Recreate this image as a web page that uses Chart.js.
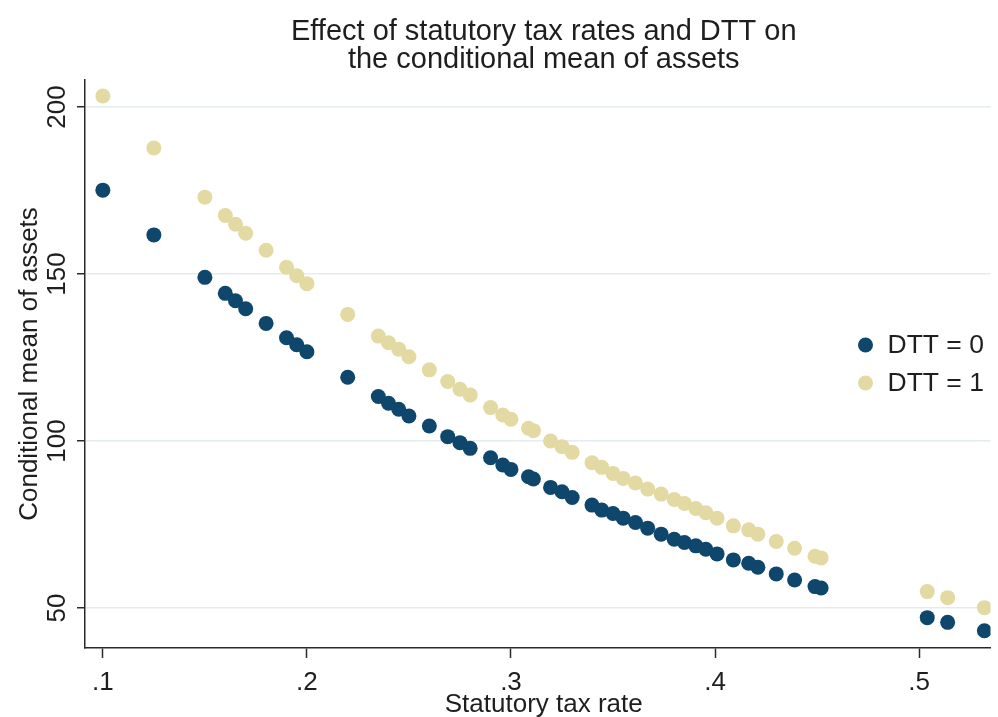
<!DOCTYPE html>
<html>
<head>
<meta charset="utf-8">
<script src="https://cdn.jsdelivr.net/npm/chart.js@4.4.1/dist/chart.umd.min.js"></script>
<style>
  html, body { margin: 0; padding: 0; background: #ffffff; }
  #wrap { width: 998px; height: 717px; }
</style>
</head>
<body>
<div id="wrap"><canvas id="c" width="998" height="717"></canvas></div>
<script>
// Statutory tax rates and the conditional mean of assets, by DTT status
const taxRate = [
  0.100, 0.125, 0.150, 0.160, 0.165, 0.170, 0.180, 0.190, 0.195, 0.200,
  0.220, 0.235, 0.240, 0.245, 0.250, 0.260, 0.269, 0.275, 0.280, 0.290,
  0.296, 0.300, 0.3086, 0.311, 0.3194, 0.325, 0.330, 0.3397, 0.3445, 0.350,
  0.355, 0.361, 0.367, 0.3736, 0.380, 0.385, 0.3906, 0.3955, 0.401, 0.409,
  0.4165, 0.421, 0.430, 0.439, 0.449, 0.452, 0.504, 0.514, 0.532
];
const assetsDTT0 = [
  175.1, 161.7, 149.0, 144.2, 142.0, 139.6, 135.2, 130.9, 128.8, 126.7,
  119.1, 113.3, 111.3, 109.5, 107.5, 104.5, 101.3, 99.5, 97.8, 95.0,
  92.8, 91.5, 89.3, 88.6, 86.1, 84.8, 83.1, 80.8, 79.3, 78.3,
  76.9, 75.6, 73.9, 72.1, 70.6, 69.6, 68.6, 67.6, 66.2, 64.4,
  63.4, 62.2, 60.2, 58.4, 56.4, 56.0, 47.1, 45.7, 43.2
];
const assetsDTT1 = [
  203.3, 187.7, 173.0, 167.5, 164.9, 162.2, 157.1, 152.0, 149.5, 147.1,
  137.9, 131.4, 129.4, 127.5, 125.2, 121.3, 117.8, 115.5, 113.8, 110.0,
  107.8, 106.5, 103.8, 103.1, 100.0, 98.3, 96.6, 93.5, 92.1, 90.3,
  88.8, 87.4, 85.6, 84.1, 82.5, 81.3, 79.8, 78.5, 76.9, 74.6,
  73.4, 72.1, 69.9, 67.9, 65.5, 65.0, 54.9, 53.1, 50.1
];
const xTicks = [0.1, 0.2, 0.3, 0.4, 0.5];
const xTickLabels = ['.1', '.2', '.3', '.4', '.5'];
const yTicks = [50, 100, 150, 200];
const yTickLabels = ['50', '100', '150', '200'];
const seriesNames = ['DTT = 0', 'DTT = 1'];
const chartTitle = ['Effect of statutory tax rates and DTT on', 'the conditional mean of assets'];
const xTitle = 'Statutory tax rate';
const yTitle = 'Conditional mean of assets';

const NAVY = '#0e466c';
const SAND = '#e3d9a3';
const INK = '#1e1e1e';
const AXIS = '#2a2a2a';
const FONT = '"Liberation Sans", Arial, Helvetica, sans-serif';
const DOT = 7.5;

const toPoints = ys => taxRate.map((x, i) => ({ x: x, y: ys[i] }));

// Titles, rotated y labels, tick labels and the inset legend
const textLayer = {
  id: 'textLayer',
  afterDraw(chart) {
    const ctx = chart.ctx;
    const area = chart.chartArea;
    const xs = chart.scales.x;
    const ys = chart.scales.y;
    const cx = (area.left + area.right) / 2 + 6;
    ctx.save();
    ctx.fillStyle = INK;

    // main title
    ctx.font = '29px ' + FONT;
    ctx.textAlign = 'center';
    ctx.textBaseline = 'alphabetic';
    ctx.fillText(chartTitle[0], cx, 40);
    ctx.fillText(chartTitle[1], cx, 68);

    // x tick labels
    ctx.font = '26px ' + FONT;
    xTicks.forEach((v, i) => {
      ctx.fillText(xTickLabels[i], xs.getPixelForValue(v), area.bottom + 42);
    });

    // x axis title
    ctx.fillText(xTitle, cx, 712);

    // y tick labels, reading upward
    yTicks.forEach((v, i) => {
      ctx.save();
      ctx.translate(area.left - 20, ys.getPixelForValue(v));
      ctx.rotate(-Math.PI / 2);
      ctx.fillText(yTickLabels[i], 0, 0);
      ctx.restore();
    });

    // y axis title
    ctx.save();
    ctx.translate(37, (area.top + area.bottom) / 2);
    ctx.rotate(-Math.PI / 2);
    ctx.fillText(yTitle, 0, 0);
    ctx.restore();

    // legend inside the plot region
    const colors = [NAVY, SAND];
    const lx = area.right - 125;
    const ly = [345, 383];
    ctx.font = '26.5px ' + FONT;
    ctx.textAlign = 'left';
    ctx.textBaseline = 'middle';
    seriesNames.forEach((name, i) => {
      ctx.beginPath();
      ctx.fillStyle = colors[i];
      ctx.arc(lx, ly[i], DOT, 0, Math.PI * 2);
      ctx.fill();
      ctx.fillStyle = INK;
      ctx.fillText(name, lx + 22, ly[i] + 1);
    });
    ctx.restore();
  }
};

new Chart(document.getElementById('c'), {
  type: 'scatter',
  data: {
    datasets: [
      { label: seriesNames[0], data: toPoints(assetsDTT0), backgroundColor: NAVY,
        pointRadius: DOT, pointHoverRadius: DOT, pointBorderWidth: 0, borderWidth: 0 },
      { label: seriesNames[1], data: toPoints(assetsDTT1), backgroundColor: SAND,
        pointRadius: DOT, pointHoverRadius: DOT, pointBorderWidth: 0, borderWidth: 0 }
    ]
  },
  options: {
    responsive: false,
    animation: false,
    devicePixelRatio: 1,
    layout: { padding: { top: 80, left: 0, right: 0, bottom: 0 } },
    plugins: {
      legend: { display: false },
      title: { display: false },
      tooltip: { enabled: false }
    },
    scales: {
      x: {
        type: 'linear',
        min: 0.09125,
        max: 0.535,
        afterBuildTicks: s => { s.ticks = xTicks.map(v => ({ value: v })); },
        afterFit: s => { s.height = 69; },
        grid: { drawOnChartArea: false, drawTicks: true, tickLength: 10, tickColor: AXIS, tickWidth: 1.5 },
        border: { display: true, color: AXIS, width: 1.5 },
        ticks: { display: false }
      },
      y: {
        type: 'linear',
        min: 38.02,
        max: 208.08,
        afterBuildTicks: s => { s.ticks = yTicks.map(v => ({ value: v })); },
        afterFit: s => { s.width = 85; },
        grid: { color: '#e4ecef', lineWidth: 1.5, drawTicks: true, tickLength: 8, tickColor: AXIS, tickWidth: 1.5 },
        border: { display: true, color: AXIS, width: 1.5 },
        ticks: { display: false }
      }
    }
  },
  plugins: [textLayer]
});
</script>
</body>
</html>
